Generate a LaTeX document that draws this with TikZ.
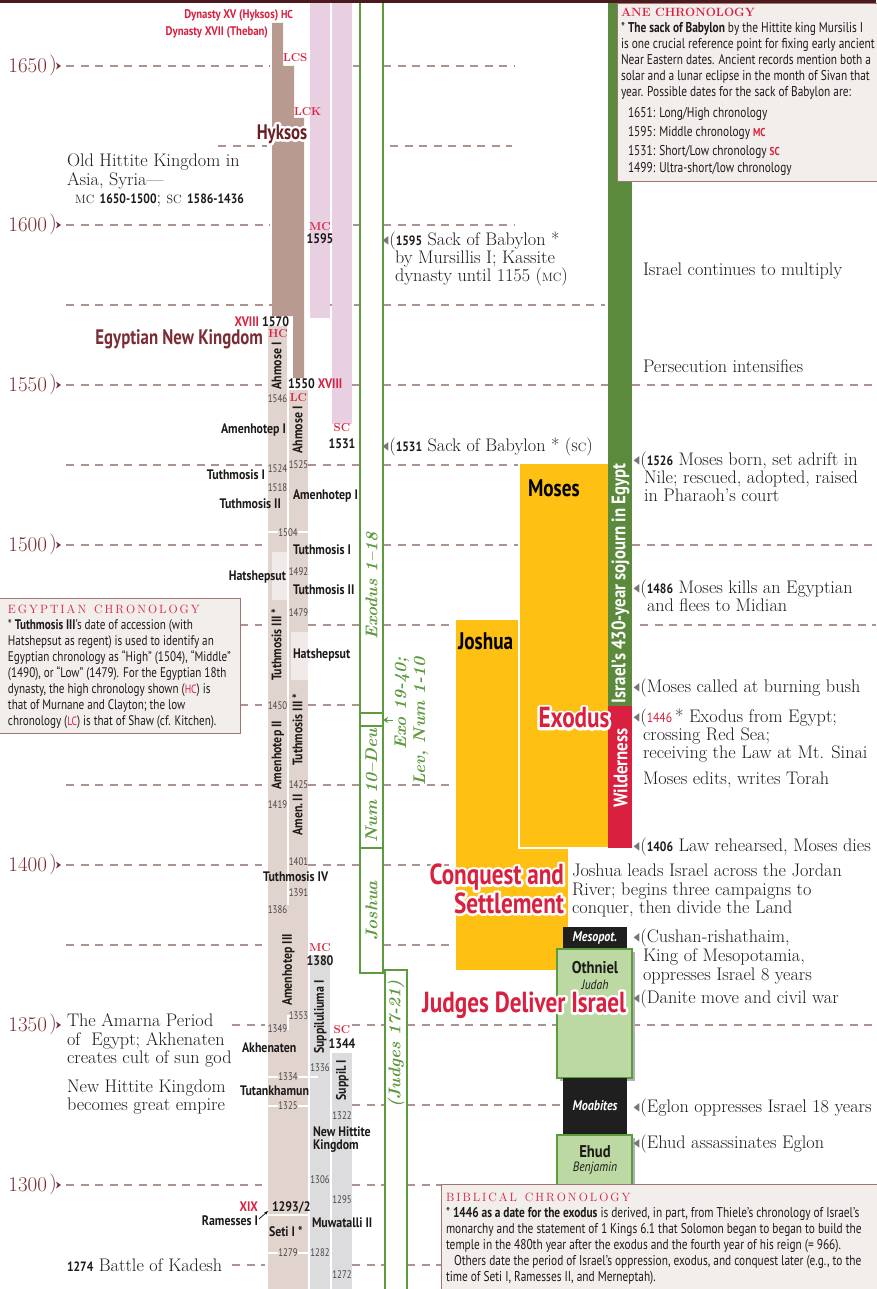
\documentclass[tikz,border=0pt]{standalone}
\usepackage{fontspec}
\usepackage{amssymb}
\usetikzlibrary{calc,arrows.meta}
\newfontfamily\cnd[FakeStretch=0.86]{PT Sans}
\newfontfamily\cnb[FakeStretch=0.8]{PT Sans}
\definecolor{maroon}{HTML}{7B2D35}
\definecolor{dkmar}{HTML}{6A1F27}
\definecolor{topband}{HTML}{4A1A1E}
\definecolor{redc}{HTML}{D9203F}
\definecolor{hyk}{HTML}{B99A91}
\definecolor{tanc}{HTML}{E1D4CF}
\definecolor{tanlt}{HTML}{F0EBE8}
\definecolor{pinkc}{HTML}{E8D0E2}
\definecolor{grayc}{HTML}{DCDCDE}
\definecolor{grn}{HTML}{5B8A3C}
\definecolor{grnl}{HTML}{5E9A3E}
\definecolor{orng}{HTML}{FDC013}
\definecolor{ltgrn}{HTML}{BCD9A3}
\definecolor{boxf}{HTML}{F2EEEB}
\definecolor{boxd}{HTML}{A27570}
\definecolor{dashc}{HTML}{AD938D}
\definecolor{txt}{HTML}{1E1A1A}
\definecolor{yrg}{HTML}{4A4545}
\definecolor{mkg}{HTML}{777777}
\newcommand\yb[1]{{\cnd\bfseries\fontsize{13.5}{13.5}\selectfont #1}}
\newcommand\scb[1]{{\fontsize{11.5}{11.5}\selectfont\bfseries #1}}
\newcommand\scn[1]{{\fontsize{12}{12}\selectfont #1}}
\newcommand\rsc[1]{\textcolor{redc}{\scb{#1}}}
\newcommand\mk{{\color{mkg}\raisebox{1pt}{\scalebox{0.5}[0.8]{$\blacktriangleleft$}}}\kern0.3pt(}
\tikzset{
  every node/.style={inner sep=0pt, outer sep=0pt},
  dsh/.style={draw=dashc, line width=1.1pt, dash pattern=on 8pt off 6.5pt},
  ser/.style={font=\fontsize{18.2}{18.2}\selectfont, text=txt, anchor=west, text height=12.5pt, text depth=4pt},
  yrl/.style={font=\fontsize{21}{21}\selectfont, text=maroon, anchor=east, text height=14pt, text depth=1pt},
  cb/.style={font=\cnd\bfseries\fontsize{13.8}{14}\selectfont, text=txt, text height=10pt, text depth=2.5pt},
  cbr/.style={cb, text=redc},
  cs/.style={font=\cnb\fontsize{11}{12}\selectfont, text=yrg, text height=8pt, text depth=2pt},
  vb/.style={cb, rotate=90},
  bx/.style={font=\cnb\fontsize{14.2}{16}\selectfont, text=txt, anchor=west, text height=10pt, text depth=3pt},
  bxe/.style={bx, font=\cnb\fontsize{13.9}{16}\selectfont},
  bxt/.style={font=\fontsize{12}{12}\selectfont\bfseries, text=redc, anchor=west, text height=8pt, text depth=1pt},
  grt/.style={font=\bfseries\itshape\fontsize{17}{17}\selectfont, text=grnl, rotate=90},
  bigm/.style={font=\cnb\bfseries\fontsize{24}{24}\selectfont},
  hl/.style={font=\cnb\bfseries\fontsize{29}{29}\selectfont, text=redc},
  wv/.style={font=\cnd\bfseries\fontsize{19.5}{19.5}\selectfont, text=white, rotate=90},
  jb/.style={font=\cnd\bfseries\fontsize{17}{17}\selectfont, text=txt},
  ji/.style={font=\cnd\itshape\fontsize{13.5}{13.5}\selectfont, text=txt},
  jw/.style={font=\cnd\bfseries\itshape\fontsize{14}{14}\selectfont, text=white},
  infobox/.style={fill=boxf, draw=boxd, line width=1pt},
  refcol/.style={draw=grnl, line width=1.1pt},
  wsep/.style={draw=white, line width=1.2pt}
}
\newcommand\halotext[5]{%
  \node[#2,text=white,anchor=#3] (#1w) at (#4) {\special{pdf:literal direct 1 Tr 5 w 1 j}#5\special{pdf:literal direct 0 Tr}};%
  \node[#2,anchor=#3] (#1) at (#4) {#5};}
\newcommand\yearlbl[3]{%
  \node[yrl] (#1) at (47,#3) {#2};
  \node[font=\fontsize{21}{21}\selectfont, text=maroon] (#1p) at (53,#3-1) {)};
  \fill[maroon] (56,#3-3.5) -- (61,#3) -- (56,#3+3.5) -- (57.5,#3) -- cycle;}
\begin{document}
\begin{tikzpicture}[x=1pt,y=-1pt]
\useasboundingbox (0,0) rectangle (876,1289);
\fill[white] (0,0) rectangle (876,1289);

% ---------- dashed time lines
\foreach \y/\a/\b in {66/66/270, 66/353/360, 66/383/515,
  146/218/267, 146/390/512,
  225/66/270, 225/353/360, 225/383/515,
  305/66/272, 305/310/360, 305/383/605,
  385/66/262, 385/352/360, 385/383/608, 385/632/876,
  465/66/262, 465/308/360, 465/383/519,
  545/66/262, 545/383/519, 545/632/876,
  625/240/262, 625/308/360, 625/383/456, 625/640/876,
  705/240/262, 705/308/360,
  785/66/262, 785/308/360, 785/383/456,
  865/66/262, 865/308/360, 865/383/456,
  945/66/262, 945/290/308, 945/383/456,
  1025/232/265, 1025/352/385, 1025/407/557, 1025/632/876,
  1105/352/385, 1105/407/563,
  1185/66/262, 1185/352/385, 1185/407/441,
  1265/232/265, 1265/352/385, 1265/407/441}
  \draw[dsh] (\a,\y) -- (\b,\y);

% ---------- year labels
\yearlbl{y1650}{1650}{66}
\yearlbl{y1600}{1600}{225}
\yearlbl{y1550}{1550}{385}
\yearlbl{y1500}{1500}{545}
\yearlbl{y1400}{1400}{865}
\yearlbl{y1350}{1350}{1025}
\yearlbl{y1300}{1300}{1185}

% ---------- Hittite (pink) bars
\fill[pinkc] (310,3) rectangle (330,318);
\fill[pinkc] (332,3) rectangle (352,424);
% ---------- Hyksos
\fill[hyk] (272,23) -- (283,23) -- (283,66) -- (294,66) -- (294,118) -- (304,118)
  -- (304,378) -- (293,378) -- (293,316) -- (272,316) -- cycle;
% ---------- Egyptian columns
\fill[tanc] (268,326) rectangle (287,893);
\fill[tanc] (289,390) rectangle (308,893);
\fill[tanc] (268,893) rectangle (308,1289);
\fill[tanlt] (272,552) rectangle (287,600);
\fill[tanlt] (291,632) rectangle (308,680);
\draw[wsep] (288,905) -- (288,892) -- (292,892);
\draw[wsep] (288,1030) -- (288,1016) -- (291,1016);
\draw[wsep] (268,532) -- (278,532) (298,532) -- (308,532);
\draw[wsep] (268,1077) -- (278,1077) (298,1077) -- (308,1077);
\draw[wsep] (268,1106) -- (278,1106) (298,1106) -- (308,1106);
\draw[wsep] (268,1253) -- (278,1253) (298,1253) -- (308,1253);
\draw[wsep] (268,1215) -- (308,1215);
% ---------- Hittite gray
\fill[grayc] (310,955) rectangle (330,1289);
\fill[grayc] (332,1053) rectangle (352,1289);
\draw[wsep] (310,1077) -- (318,1077);

% ---------- Bible reference columns
\draw[refcol] (360,-2) rectangle (383,713);
\draw[refcol] (360,713) rectangle (383,726);
\draw[refcol] (360,726) rectangle (383,848);
\draw[refcol] (360,848) rectangle (383,973);
\draw[refcol] (385,970) rectangle (407,1300);
\node[grt] (exo118) at (371.5,586) {Exodus 1–18};
\node[grt] (num10) at (371.5,786) {Num 10–Deu};
\node[grt] (josh) at (371.5,911) {Joshua};
\node[grt] (judg) at (396,1044) {(Judges 17-21)};
\node[grt, anchor=east] (exo19) at (402,657) {Exo 19-40;};
\node[grt, anchor=east] (levn) at (421,657) {Lev, Num 1-10};
\coordinate (c2) at (383,720);
\draw[grnl, line width=1pt, -{Stealth[length=5pt,width=6pt]}] (393,720) -- (c2);

% ---------- Orange boxes
\fill[orng] (456,620) rectangle (568,970);
\filldraw[fill=orng, draw=white, line width=1.5pt] (519,463) rectangle (610,848);
\node[bigm, anchor=west] (moses) at (528,488) {Moses};
\node[bigm, anchor=west] (joshua) at (458,641) {Joshua};

% ---------- sojourn bar
\fill[grn] (608,0) rectangle (632,706);
\fill[redc] (608,706) rectangle (632,848);
\node[wv, anchor=west] (soj) at (620.5,703) {Israel’s 430-year sojourn in Egypt};
\node[wv] (wild) at (620.5,768) {Wilderness};

% ---------- Judges boxes
\fill[black!88] (563,927) rectangle (627,949);
\fill[black!30] (560,952) rectangle (635,1081);
\filldraw[fill=ltgrn, draw=grnl, line width=1.2pt] (557,949) rectangle (632,1078);
\fill[black!88] (563,1078) rectangle (627,1136);
\fill[black!30] (560,1138) rectangle (635,1300);
\filldraw[fill=ltgrn, draw=grnl, line width=1.2pt] (557,1135) rectangle (632,1300);
\node[jw] (meso) at (595,938) {Mesopot.};
\node[jb] (othn) at (595,968) {Othniel};
\node[ji] (juda) at (595,985) {Judah};
\node[jw] (moab) at (595,1106) {Moabites};
\node[jb] (ehud) at (595,1152) {Ehud};
\node[ji] (benj) at (595,1168) {Benjamin};

% ---------- big halo labels
\halotext{hyks}{hl, text=dkmar, font=\cnb\bfseries\fontsize{21}{21}\selectfont}{center}{282,134}{Hyksos}
\halotext{exod}{hl}{center}{574,718}{Exodus}
\halotext{conq}{hl}{east}{564,877}{Conquest and}
\halotext{sett}{hl}{east}{564,903}{Settlement}
\halotext{jdi}{hl}{east}{626,1005}{Judges Deliver Israel}
\node[bigm, text=maroon, anchor=east, font=\cnb\bfseries\fontsize{21}{21}\selectfont] (enk) at (263,339) {Egyptian New Kingdom};

% ---------- Egyptian column labels
\node[cbr, anchor=east, font=\cnd\bfseries\fontsize{12.5}{13}\selectfont] (dyn15) at (293,15) {Dynasty XV (Hyksos) \scb{HC}};
\node[cbr, anchor=east, font=\cnd\bfseries\fontsize{12.5}{13}\selectfont] (dyn17) at (268,32) {Dynasty XVII (Theban)};
\node[anchor=west, text=redc] (lcs) at (283,58) {\scb{LCS}};
\node[anchor=west, text=redc] (lck) at (294,112) {\scb{LCK}};
\node[cb, anchor=east] (x1570) at (289,323) {\textcolor{redc}{XVIII} 1570};
\node[text=redc] (hc1) at (278,334) {\scb{HC}};
\node[cb, anchor=west] (x1550) at (288,385) {1550 \textcolor{redc}{XVIII}};
\node[text=redc] (lc1) at (298.5,398) {\scb{LC}};
\node[text=redc] (mc1) at (320,227) {\scb{MC}};
\node[cb] (m1595) at (320,240) {1595};
\node[text=redc] (sc1) at (342,428) {\scb{SC}};
\node[cb] (s1531) at (342,445) {1531};
\node[text=redc] (mc2) at (320,948) {\scb{MC}};
\node[cb] (m1380) at (320,962) {1380};
\node[text=redc] (sc2) at (342,1030) {\scb{SC}};
\node[cb] (s1344) at (342,1045) {1344};

\node[vb] (ahm1) at (277.5,366) {Ahmose I};
\node[vb] (ahm2) at (298.5,430) {Ahmose I};
\node[vb] (tut3a) at (277.5,645) {Tuthmosis III\,*};
\node[vb] (amen2a) at (277.5,755) {Amenhotep II};
\node[vb] (tut3b) at (298.5,730) {Tuthmosis III\,*};
\node[vb] (amen2b) at (298.5,815) {Amen.\,II};
\node[vb] (amen3) at (288,970) {Amenhotep III};
\node[vb] (supp1) at (320,1017) {Suppiluliuma I};
\node[vb] (supp2) at (342,1080) {Suppil.\,I};

\node[cb, anchor=east] (amh1a) at (286,430) {Amenhotep I};
\node[cb, anchor=east] (tu1a) at (265,476) {Tuthmosis I};
\node[cb, anchor=east] (tu2a) at (281,505) {Tuthmosis II};
\node[cb, anchor=east] (hata) at (286,577) {Hatshepsut};
\node[cb, anchor=west] (amh1b) at (293,496) {Amenhotep I};
\node[cb, anchor=west] (tu1b) at (293,551) {Tuthmosis I};
\node[cb, anchor=west] (tu2b) at (293,591) {Tuthmosis II};
\node[cb, anchor=west] (hatb) at (293,655) {Hatshepsut};
\node[cb, anchor=west] (tu4) at (263,878) {Tuthmosis IV};
\node[cb, anchor=west] (akh) at (242,1049) {Akhenaten};
\node[cb, anchor=west] (tutk) at (240,1092) {Tutankhamun};
\node[cbr, anchor=east] (xix) at (258,1208) {XIX};
\node[cb, anchor=east] (ram) at (258,1222) {Ramesses I};
\node[cb, anchor=west] (seti) at (269,1233) {Seti I *};
\node[cb, anchor=west] (b1293) at (272,1208) {1293/2};
\coordinate (r1293) at (268,1211);
\draw[-{Stealth[length=4pt,width=3pt]}, line width=0.7pt] ($(ram.east)+(1,-3)$) -- (r1293);
\node[cb, anchor=west] (nhk1) at (313,1133) {New Hittite};
\node[cb, anchor=west] (nhk2) at (313,1146) {Kingdom};
\node[cb, anchor=west] (muw) at (312,1224) {Muwatalli II};

% small year labels
\foreach \n/\x/\y in {1546/277.5/399, 1524/277.5/469, 1518/277.5/488, 1450/277.5/706,
  1419/277.5/805, 1386/277.5/910, 1349/277.5/1029,
  1525/298.5/465, 1492/298.5/572, 1479/298.5/613, 1425/298.5/785, 1401/298.5/862,
  1391/298.5/893, 1353/298.5/1016,
  1504/288/533, 1334/288/1077, 1325/288/1106, 1279/288/1253,
  1336/320/1068, 1306/320/1180, 1282/320/1253, 1322/342/1116, 1295/342/1200, 1272/342/1275}
  \node[cs] (n\n) at (\x,\y) {\n};

% ---------- info boxes
\filldraw[infobox] (617,4) rectangle (880,182);
\node[bxt] (anet) at (621,13) {ANE CHRONOLOGY};
\node[bx] (a1) at (621,29) {* \textbf{The sack of Babylon} by the Hittite king Mursilis I};
\node[bx] (a2) at (621,45) {is one crucial reference point for fixing early ancient};
\node[bx] (a3) at (621,61) {Near Eastern dates. Ancient records mention both a};
\node[bx] (a4) at (621,77) {solar and a lunar eclipse in the month of Sivan that};
\node[bx] (a5) at (621,93) {year. Possible dates for the sack of Babylon are:};
\node[bx] (a6) at (628,114) {1651: Long/High chronology};
\node[bx] (a7) at (628,133) {1595: Middle chronology \rsc{MC}};
\node[bx] (a8) at (628,152) {1531: Short/Low chronology \rsc{SC}};
\node[bx] (a9) at (628,169) {1499: Ultra-short/low chronology};

\filldraw[infobox] (-2,598) rectangle (240,733);
\node[bxt, font=\fontsize{12}{12}\selectfont] (egt) at (8,610) {E\,G\,Y\,P\,T\,I\,A\,N\ \ C\,H\,R\,O\,N\,O\,L\,O\,G\,Y};
\node[bxe] (e1) at (8,626) {* \textbf{Tuthmosis III}’s date of accession (with};
\node[bxe] (e2) at (8,642) {Hatshepsut as regent) is used to identify an};
\node[bxe] (e3) at (8,658) {Egyptian chronology as “High” (1504), “Middle”};
\node[bxe] (e4) at (8,674) {(1490), or “Low” (1479). For the Egyptian 18th};
\node[bxe] (e5) at (8,690) {dynasty, the high chronology shown (\textcolor{redc}{\scn{HC}}) is};
\node[bxe] (e6) at (8,706) {that of Murnane and Clayton; the low};
\node[bxe] (e7) at (8,722) {chronology (\textcolor{redc}{\scn{LC}}) is that of Shaw (cf. Kitchen).};

\filldraw[infobox] (441,1184) rectangle (880,1300);
\node[bxt, font=\fontsize{12}{12}\selectfont] (bct) at (446,1198) {B\,I\,B\,L\,I\,C\,A\,L\ \ C\,H\,R\,O\,N\,O\,L\,O\,G\,Y};
\node[bx] (b1) at (446,1214) {* \textbf{1446 as a date for the exodus} is derived, in part, from Thiele’s chronology of Israel’s};
\node[bx] (b2) at (446,1230) {monarchy and the statement of 1 Kings 6.1 that Solomon began to began to build the};
\node[bx] (b3) at (446,1246) {temple in the 480th year after the exodus and the fourth year of his reign (= 966).};
\node[bx] (b4) at (446,1262) {\hspace*{8pt}Others date the period of Israel’s oppression, exodus, and conquest later (e.g., to the};
\node[bx] (b5) at (446,1278) {time of Seti I, Ramesses II, and Merneptah).};

% ---------- serif event texts
\node[ser] (t1) at (67,162) {Old Hittite Kingdom in};
\node[ser] (t2) at (67,181) {Asia, Syria—};
\node[ser] (t3) at (75,199) {\scn{MC} \yb{1650-1500}; \scn{SC} \yb{1586-1436}};
\node[ser] (t4) at (382,241) {\mk\yb{1595} Sack of Babylon *};
\node[ser] (t5) at (395,259) {by Mursillis I; Kassite};
\node[ser] (t6) at (395,277) {dynasty until 1155 (\scn{MC})};
\node[ser] (t7) at (382,447) {\mk\yb{1531} Sack of Babylon * (\scn{SC})};
\node[ser] (t8) at (643,271) {Israel continues to multiply};
\node[ser] (t9) at (643,368) {Persecution intensifies};
\node[ser] (t10) at (633,461) {\mk\yb{1526} Moses born, set adrift in};
\node[ser] (t11) at (644,479) {Nile; rescued, adopted, raised};
\node[ser] (t12) at (644,497) {in Pharaoh’s court};
\node[ser] (t13) at (633,589) {\mk\yb{1486} Moses kills an Egyptian};
\node[ser] (t14) at (647,607) {and flees to Midian};
\node[ser] (t15) at (633,688) {\mk Moses called at burning bush};
\node[ser] (t16) at (633,718) {\mk{\cnd\fontsize{13.5}{13.5}\selectfont\textcolor{redc}{1446}}\,* Exodus from Egypt;};
\node[ser] (t17) at (643,736) {crossing Red Sea;};
\node[ser] (t18) at (643,754) {receiving the Law at Mt. Sinai};
\node[ser] (t19) at (643,780) {Moses edits, writes Torah};
\node[ser] (t20) at (633,847) {\mk\yb{1406} Law rehearsed, Moses dies};
\node[ser] (t21) at (572,872) {Joshua leads Israel across the Jordan};
\node[ser] (t22) at (572,891) {River; begins three campaigns to};
\node[ser] (t23) at (572,909) {conquer, then divide the Land};
\node[ser] (t24) at (633,938) {\mk Cushan-rishathaim,};
\node[ser] (t25) at (643,957) {King of Mesopotamia,};
\node[ser] (t26) at (643,976) {oppresses Israel 8 years};
\node[ser] (t27) at (633,999) {\mk Danite move and civil war};
\node[ser] (t28) at (633,1108) {\mk Eglon oppresses Israel 18 years};
\node[ser] (t29) at (633,1144) {\mk Ehud assassinates Eglon};
\node[ser] (t30) at (67,1022) {The Amarna Period};
\node[ser] (t31) at (67,1041) {of\ \ Egypt; Akhenaten};
\node[ser] (t32) at (67,1059) {creates cult of sun god};
\node[ser] (t33) at (67,1088) {New Hittite Kingdom};
\node[ser] (t34) at (67,1106) {becomes great empire};
\node[ser] (t35) at (67,1267) {\yb{1274} Battle of Kadesh};

\fill[topband] (0,0) rectangle (876,3.5);
\end{tikzpicture}
\end{document}
